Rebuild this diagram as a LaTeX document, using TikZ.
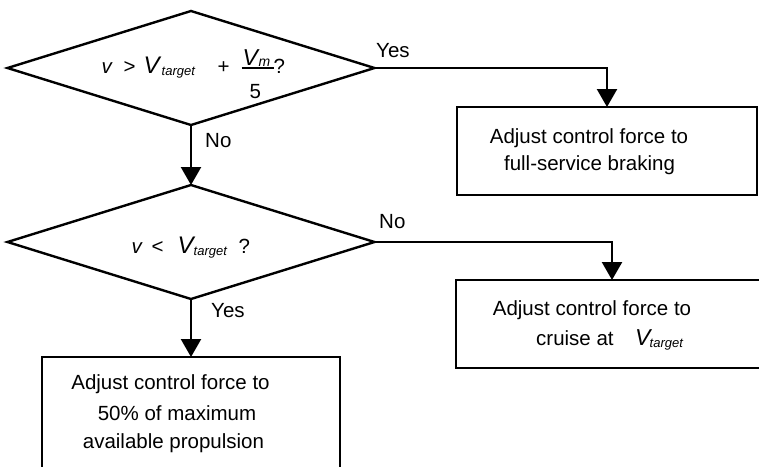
\documentclass[tikz,border=0pt]{standalone}
\usepackage{fontspec}
\setmainfont{Liberation Sans}
\usetikzlibrary{shapes.geometric,arrows.meta}
\newcommand\myfs[1]{\fontsize{#1}{#1}\selectfont}
\begin{document}
\begin{tikzpicture}[x=1pt,y=-1pt,
  line width=2.4pt,
  dec/.style={draw,diamond,minimum width=367pt,minimum height=114pt,inner sep=0pt,outer sep=0pt,shape aspect=3.22},
  boxnode/.style={draw,rectangle,inner sep=0pt,outer sep=0pt},
  txt/.style={inner sep=0pt,font=\myfs{20.5}},
  flow/.style={-{Triangle[length=18pt,width=20pt]}},
]
\useasboundingbox (0,0) rectangle (759,466);
\clip (0,0) rectangle (759,466);

% decisions
\node[dec] (d1) at (191,68) {};
\node[dec] (d2) at (191,242) {};

% process boxes
\node[boxnode,minimum width=300pt,minimum height=88pt] (b1) at (607,151) {};
\node[boxnode,minimum width=312pt,minimum height=88pt] (b2) at (612,324) {};
\node[boxnode,minimum width=298pt,minimum height=124pt] (b3) at (191,419) {};

% connectors
\draw[flow] (d1.east) -| (b1.north);
\draw[flow] (d1.south) -- (d2.north);
\draw[flow] (d2.east) -| (b2.north);
\draw[flow] (d2.south) -- (b3.north);

% formula 1
\node[txt,anchor=base west] (f1) at (100,73) {%
 \rlap{\textit{v}}%
 \rlap{\hspace{22pt}>}%
 \rlap{\hspace{42pt}\myfs{24}\textit{V}}%
 \rlap{\hspace{60pt}\raisebox{-2pt}{\myfs{13}\textit{target}}}%
 \rlap{\hspace{116pt}+}%
 \rlap{\hspace{141pt}\raisebox{8pt}{\myfs{23}\textit{V}}}%
 \rlap{\hspace{157pt}\raisebox{7pt}{\myfs{14}\textit{m}}}%
 \rlap{\hspace{140pt}\raisebox{3.7pt}{\rule{32pt}{2pt}}}%
 \rlap{\hspace{148pt}\raisebox{-25pt}{5}}%
 \rlap{\hspace{172pt}?}%
};

% formula 2
\node[txt,anchor=base west] (f2) at (130,253) {%
 \rlap{\textit{v}}%
 \rlap{\hspace{20pt}<}%
 \rlap{\hspace{46pt}\myfs{24}\textit{V}}%
 \rlap{\hspace{62pt}\raisebox{-2pt}{\myfs{13}\textit{target}}}%
 \rlap{\hspace{107pt}?}%
};

% box texts
\node[txt,anchor=base] (t1a) at (589,143) {Adjust control force to};
\node[txt,anchor=base] (t1b) at (589.5,170) {full-service braking};
\node[txt,anchor=base] (t2a) at (592,315) {Adjust control force to};
\node[txt,anchor=base west] (t2b) at (535,345) {cruise at\rlap{\hspace{21.5pt}\myfs{23}\textit{V}}\rlap{\hspace{36pt}\raisebox{-2pt}{\myfs{13}\textit{target}}}};
\node[txt,anchor=base] (t3a) at (170.5,389) {Adjust control force to};
\node[txt,anchor=base] (t3b) at (177,420) {50\% of maximum};
\node[txt,anchor=base] (t3c) at (173.5,448) {available propulsion};

% connector labels
\node[txt,anchor=base west] (lyes1) at (375,57) {Yes};
\node[txt,anchor=base west] (lno1) at (204,147) {No};
\node[txt,anchor=base west] (lno2) at (378,228) {No};
\node[txt,anchor=base west] (lyes2) at (210,317) {Yes};
\end{tikzpicture}
\end{document}
